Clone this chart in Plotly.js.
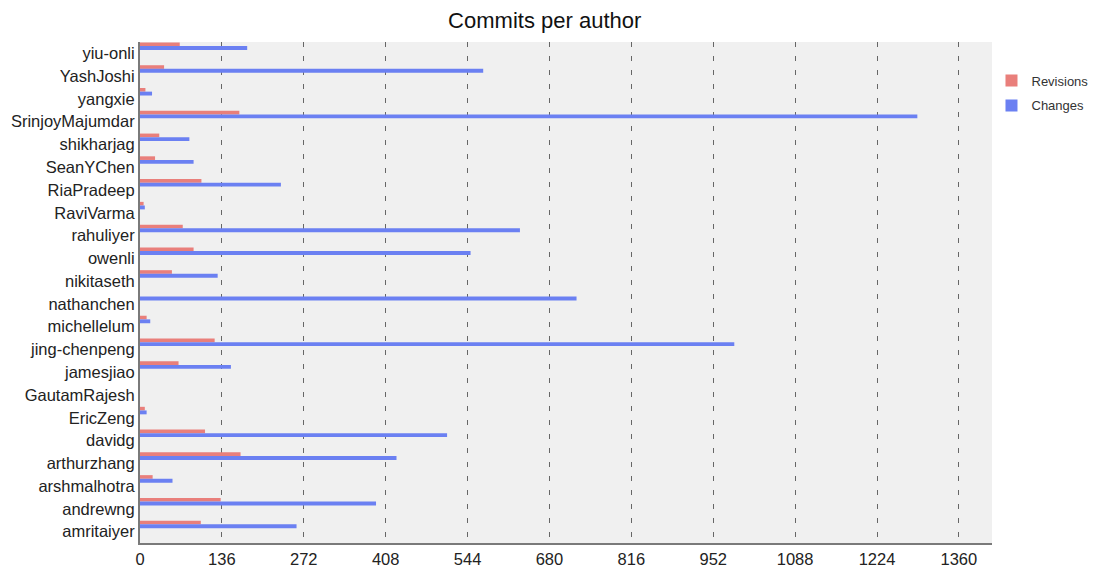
<!DOCTYPE html>
<html>
<head>
<meta charset="utf-8">
<script src="https://cdn.plot.ly/plotly-3.0.1.min.js"></script>
<style>html,body{margin:0;padding:0;background:#fff;}#chart{width:1096px;height:569px;}</style>
</head>
<body>
<div id="chart"></div>
<script>
const authors = ["yiu-onli","YashJoshi","yangxie","SrinjoyMajumdar","shikharjag","SeanYChen","RiaPradeep","RaviVarma","rahuliyer","owenli","nikitaseth","nathanchen","michellelum","jing-chenpeng","jamesjiao","GautamRajesh","EricZeng","davidg","arthurzhang","arshmalhotra","andrewng","amritaiyer"];
const revisions = [66,40,9,165,32,25,102,6,71,89,53,0,11,124,64,0,8,108,167,21,134,101];
const changes = [178,570,20,1291,82,89,234,8,631,549,129,725,17,987,151,0,11,510,426,54,392,260];
const xTicks = [0,136,272,408,544,680,816,952,1088,1224,1360];

const traces = [
  {type:'bar', orientation:'h', name:'Revisions', y:authors, x:revisions, legendgroup:'r',
   marker:{color:'#e97f7b'}, offset:-0.48, width:0.16, hoverinfo:'x+y'},
  {type:'bar', orientation:'h', name:'Changes', y:authors, x:changes, legendgroup:'c',
   marker:{color:'#6b80f2'}, offset:-0.32, width:0.17, hoverinfo:'x+y'}
];
const layout = {
  width:1096, height:569,
  margin:{l:140, r:104, t:42, b:26, pad:0, autoexpand:false},
  paper_bgcolor:'#ffffff', plot_bgcolor:'#f0f0f0',
  font:{family:'"Liberation Sans", Arial, sans-serif', size:16.5, color:'#222'},
  title:{text:'Commits per author', x:0.497, xanchor:'center', y:0.965, yanchor:'middle',
         font:{size:22, color:'#111'}},
  barmode:'group',
  showlegend:true,
  legend:{x:0.9994, xanchor:'left', y:0.953, yanchor:'top', bgcolor:'rgba(0,0,0,0)',
          font:{size:13, color:'#333'}, itemwidth:30, traceorder:'grouped', tracegroupgap:5},
  xaxis:{range:[0,1415], tickmode:'array', tickvals:xTicks, ticktext:xTicks.map(String),
         showgrid:true, gridcolor:'#666', gridwidth:1, griddash:'5px,9px',
         zeroline:false, showline:true, linecolor:'#7a7a7a', linewidth:2,
         ticks:'outside', ticklen:0, tickfont:{size:16.5, color:'#222'}, fixedrange:true},
  yaxis:{type:'category', categoryorder:'array', categoryarray:authors, range:[21.5,-0.5],
         showgrid:false, zeroline:false, showline:true, linecolor:'#7a7a7a', linewidth:2,
         ticks:'', ticklabelstandoff:0, tickfont:{size:16.5, color:'#222'}, fixedrange:true}
};
Plotly.newPlot('chart', traces, layout, {displayModeBar:false, staticPlot:true});
</script>
</body>
</html>
